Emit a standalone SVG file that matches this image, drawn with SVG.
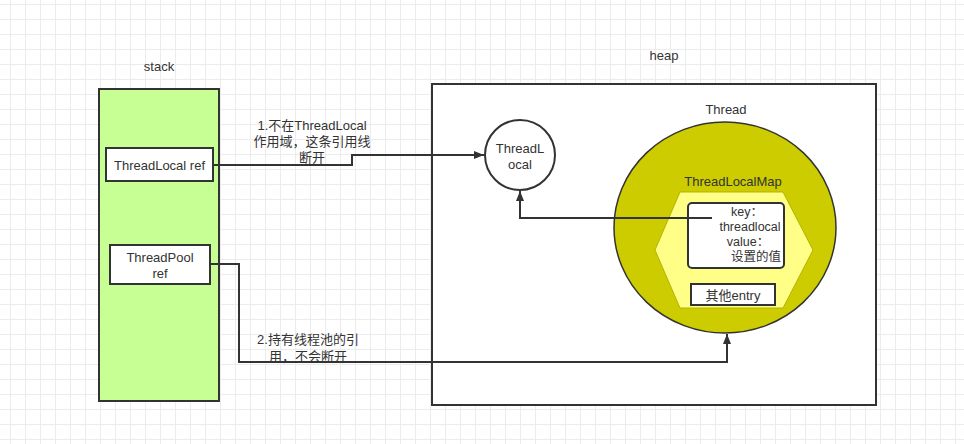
<svg xmlns="http://www.w3.org/2000/svg" width="964" height="444" viewBox="0 0 964 444">
<style>
text{font-family:"Liberation Sans","Noto Sans CJK SC",sans-serif;font-size:13px;fill:#333;text-anchor:middle;dominant-baseline:central}
.sm{font-size:12.5px}
.box{fill:#fff;stroke:#333;stroke-width:2}
.conn{fill:none;stroke:#333;stroke-width:2}
</style>
<defs>
<pattern id="grid" patternUnits="userSpaceOnUse" x="10" y="4" width="15" height="15">
<path d="M0.5 0V15M0 0.5H15" stroke="#ececec" stroke-width="1" fill="none"/>
</pattern>
<marker id="arr" viewBox="0 0 10 10" refX="10" refY="5" markerWidth="10" markerHeight="10" markerUnits="userSpaceOnUse" orient="auto">
<path d="M0 1L10 5L0 9Z" fill="#333"/>
</marker>
</defs>
<rect width="964" height="444" fill="#fff"/>
<rect width="964" height="444" fill="url(#grid)"/>

<g id="stack">
<text x="159" y="66">stack</text>
<rect x="99" y="89" width="120" height="312" fill="#c8ff94" stroke="#333" stroke-width="2"/>
</g>
<g id="threadlocal-ref">
<rect class="box" x="106" y="148" width="107" height="33"/>
<text x="159.5" y="165">ThreadLocal ref</text>
</g>
<g id="threadpool-ref">
<rect class="box" x="110" y="245" width="100" height="39"/>
<text x="160" y="257">ThreadPool</text>
<text x="160" y="273">ref</text>
</g>

<g id="heap">
<text x="664" y="55">heap</text>
<rect x="432" y="84" width="444" height="321" fill="#fff" stroke="#333" stroke-width="2"/>
</g>
<g id="threadlocal">
<circle cx="520" cy="155" r="35" fill="#fff" stroke="#333" stroke-width="2"/>
<text x="520" y="148">ThreadL</text>
<text x="520" y="164">ocal</text>
</g>
<g id="thread">
<text x="726" y="109">Thread</text>
<ellipse cx="725" cy="227.5" rx="111" ry="105.5" fill="#cccc00" stroke="#333" stroke-width="1.5"/>
</g>
<g id="threadlocalmap">
<text x="733" y="181">ThreadLocalMap</text>
<polygon points="680,192 783,192 813,250 783,308 680,308 655,250" fill="#ffff88" stroke="#b3b300" stroke-width="1"/>
</g>
<g id="entry">
<rect x="688" y="203" width="96" height="65" rx="4" fill="#fff" stroke="#333" stroke-width="2"/>
<text class="sm" x="747" y="212">key：</text>
<text class="sm" x="750" y="227">threadlocal</text>
<text class="sm" x="748" y="242">value：</text>
<text class="sm" x="756" y="257">设置的值</text>
</g>
<g id="other-entry">
<rect x="691" y="284" width="84" height="21" fill="#fff" stroke="#333" stroke-width="2"/>
<text x="733" y="295">其他entry</text>
</g>

<g id="connectors">
<path class="conn" d="M213 165H352V155H484" marker-end="url(#arr)"/>
<path class="conn" d="M712 218H520V191" marker-end="url(#arr)"/>
<path class="conn" d="M210 264H239V362H727V334" marker-end="url(#arr)"/>
<text x="312" y="125">1.不在ThreadLocal</text>
<text x="312" y="141">作用域，这条引用线</text>
<text x="312" y="157">断开</text>
<text x="308" y="339">2.持有线程池的引</text>
<text x="308" y="356">用，不会断开</text>
</g>
</svg>
